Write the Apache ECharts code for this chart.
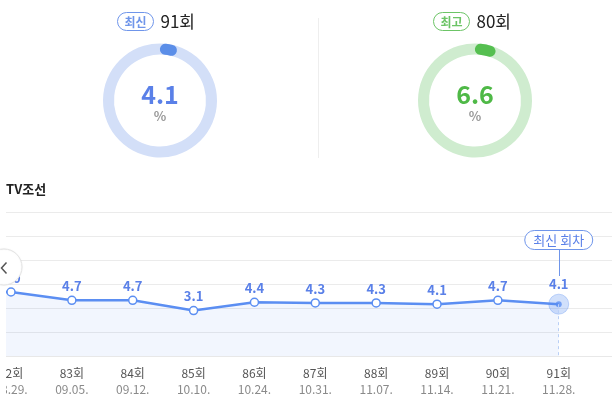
<!DOCTYPE html>
<html>
<head>
<meta charset="utf-8">
<script src="https://cdn.jsdelivr.net/npm/echarts@6/dist/echarts.min.js"></script>
<style>
html,body{margin:0;padding:0;background:#fff;}
#c{width:612px;height:407px;}
</style>
</head>
<body>
<div id="c"></div>
<script>
const episodes = ['81회','82회','83회','84회','85회','86회','87회','88회','89회','90회','91회',''];
const dates = ['08.22.','08.29.','09.05.','09.12.','10.10.','10.24.','10.31.','11.07.','11.14.','11.21.','11.28.',''];
const ratings = [6.1, 6.0, 4.7, 4.7, 3.1, 4.4, 4.3, 4.3, 4.1, 4.7, 4.1, null];
const latestEp = '91회';
const latestValue = 4.1;
const bestEp = '80회';
const bestValue = 6.6;
const channel = 'TV조선';
const latestTag = '최신 회차';

const FONT = '"Noto Sans CJK KR", "Noto Sans", sans-serif';
const BLUE = '#5b8ef2';
const BLUE_TXT = '#5a80e8';
const GREEN = '#55bf50';

const chart = echarts.init(document.getElementById('c'));
const lastIdx = episodes.indexOf(latestEp);

const lineData = ratings.map((v, i) => {
  if (i === lastIdx) {
    return {
      value: v,
      symbolSize: 20,
      itemStyle: { color: 'rgba(91,142,242,0.28)', borderColor: 'rgba(91,142,242,0.35)', borderWidth: 1 }
    };
  }
  return v;
});

function gauge(center, value, ringColor, progColor, txtColor) {
  return {
    type: 'gauge',
    center: center,
    radius: 57,
    startAngle: 84,
    endAngle: -276,
    min: 0,
    max: 216,
    z: 5,
    axisLine: { lineStyle: { width: 11, color: [[1, ringColor]] } },
    progress: { show: true, width: 11, roundCap: true, itemStyle: { color: progColor } },
    pointer: { show: false },
    axisTick: { show: false },
    splitLine: { show: false },
    axisLabel: { show: false },
    anchor: { show: false },
    title: { show: false },
    detail: {
      offsetCenter: [0, 3],
      formatter: function (v) { return '{v|' + v.toFixed(1) + '}\n{p|%}'; },
      rich: {
        v: { fontSize: 25, fontWeight: 'bold', color: txtColor, lineHeight: 26, fontFamily: FONT },
        p: { fontSize: 13, color: '#999', lineHeight: 18, fontFamily: FONT }
      }
    },
    data: [{ value: value }]
  };
}

const option = {
  animation: false,
  grid: { left: -49.86, right: -7.6, top: 212, bottom: 51, outerBoundsMode: 'none', containLabel: false },
  xAxis: {
    type: 'category',
    data: episodes,
    boundaryGap: false,
    axisLine: { show: true, onZero: false, lineStyle: { color: '#e8e8e8' } },
    axisTick: { show: false },
    splitLine: { show: false },
    axisLabel: {
      interval: 0,
      margin: 9,
      hideOverlap: false,
      formatter: function (val, idx) {
        if (!val) return '';
        return '{a|' + val + '}\n{b|' + dates[idx] + '}';
      },
      rich: {
        a: { fontSize: 12, color: '#555', lineHeight: 16, fontFamily: FONT },
        b: { fontSize: 12, color: '#8a8a8a', lineHeight: 16, fontFamily: FONT }
      }
    }
  },
  yAxis: [
    { type: 'value', min: -4, max: 18.5, show: false, splitLine: { show: false } },
    {
      type: 'value', min: 0, max: 6, interval: 1, position: 'left',
      axisLine: { show: false }, axisTick: { show: false }, axisLabel: { show: false },
      splitLine: { show: true, lineStyle: { color: '#ebebeb', width: 1 } }
    }
  ],
  series: [
    {
      type: 'line',
      data: lineData,
      yAxisIndex: 0,
      z: 3,
      symbol: 'circle',
      symbolSize: 8,
      showAllSymbol: true,
      lineStyle: { color: BLUE, width: 2.5 },
      itemStyle: { color: '#fff', borderColor: BLUE, borderWidth: 1.5 },
      areaStyle: { color: 'rgba(91,142,242,0.11)', origin: 'start' },
      label: {
        show: true, position: 'top', distance: 3,
        color: BLUE_TXT, fontSize: 13, fontWeight: 'bold', fontFamily: FONT,
        formatter: function (p) { return p.value == null ? '' : Number(p.value).toFixed(1); }
      },
      emphasis: { disabled: true },
      markLine: {
        silent: true,
        symbol: ['none', 'none'],
        label: { show: false },
        lineStyle: { color: '#b9cff6', type: [3, 3], width: 1 },
        data: [[{ coord: [latestEp, latestValue] }, { coord: [latestEp, -4] }]]
      }
    },
    {
      type: 'scatter',
      data: [[latestEp, latestValue]],
      yAxisIndex: 0,
      z: 4,
      symbolSize: 6,
      itemStyle: { color: BLUE },
      emphasis: { disabled: true }
    },
    gauge([160, 100.5], latestValue, '#d3dff8', '#5b8ee8', BLUE_TXT),
    gauge([475, 100.5], bestValue, '#cfeccf', GREEN, '#4fb947')
  ]
};
chart.setOption(option);

const pt = chart.convertToPixel({ xAxisIndex: 0, yAxisIndex: 0 }, [latestEp, latestValue]);
const tagW = 68, tagH = 19;
const tagCy = 240;

function badge(x, y, w, h, text, color, epText) {
  return [
    { type: 'rect', shape: { x: x, y: y, width: w, height: h, r: h / 2 }, style: { fill: '#fff', stroke: color, lineWidth: 1 }, z: 100 },
    { type: 'text', x: x + w / 2, y: y + h / 2 + 0.5, style: { text: text, fill: color, font: 'bold 12px ' + FONT, align: 'center', verticalAlign: 'middle' }, z: 101 },
    { type: 'text', x: x + w + 7, y: y + h / 2 + 0.5, style: { text: epText, fill: '#222', font: '17px ' + FONT, align: 'left', verticalAlign: 'middle' }, z: 101 }
  ];
}

chart.setOption({
  graphic: [
    { type: 'rect', shape: { x: 0, y: 200, width: 6, height: 207 }, style: { fill: '#fff' }, z: 100 },
    { type: 'circle', shape: { cx: 4, cy: 267, r: 18 }, style: { fill: '#fff', stroke: '#e3e3e3', lineWidth: 1, shadowBlur: 2, shadowColor: 'rgba(0,0,0,0.05)' }, z: 101 },
    { type: 'polyline', shape: { points: [[6.5, 262.5], [1.5, 268], [6.5, 273.5]] }, style: { stroke: '#555', lineWidth: 1.5, fill: null }, z: 102 },
    { type: 'line', shape: { x1: 318.5, y1: 18, x2: 318.5, y2: 158 }, style: { stroke: '#eeeeee', lineWidth: 1 }, z: 100 },
    { type: 'text', x: 6, y: 189, style: { text: channel, fill: '#222', font: 'bold 13px ' + FONT, verticalAlign: 'middle' }, z: 100 },
    ...badge(117.5, 12.5, 36, 18, '최신', '#6f95ea', latestEp),
    ...badge(433.5, 12.5, 36, 18, '최고', '#6cc466', bestEp),
    { type: 'line', shape: { x1: Math.round(pt[0]) + 0.5, y1: tagCy + tagH / 2, x2: Math.round(pt[0]) + 0.5, y2: 276 }, style: { stroke: '#6f95ea', lineWidth: 1 }, z: 100 },
    { type: 'rect', shape: { x: pt[0] - tagW / 2, y: tagCy - tagH / 2, width: tagW, height: tagH, r: tagH / 2 }, style: { fill: '#fff', stroke: '#6f95ea', lineWidth: 1 }, z: 100 },
    { type: 'text', x: pt[0], y: tagCy + 0.5, style: { text: latestTag, fill: '#5a80e8', font: '13px ' + FONT, align: 'center', verticalAlign: 'middle' }, z: 101 }
  ]
});
</script>
</body>
</html>
